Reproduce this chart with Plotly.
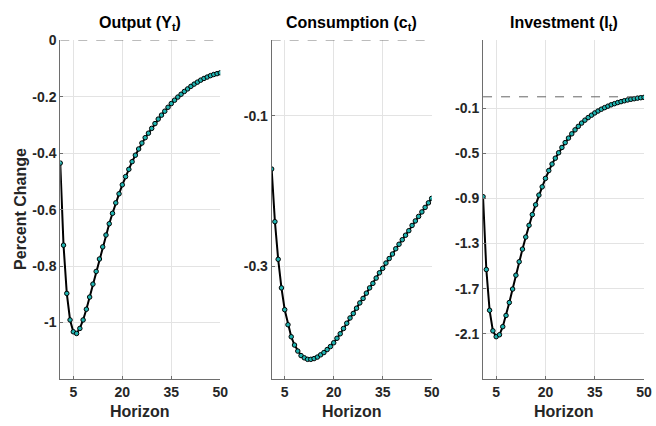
import plotly.graph_objects as go

horizon = list(range(1, 51))

output_y = [-0.435, -0.726, -0.897, -0.991, -1.033, -1.039, -1.021, -0.991, -0.953, -0.910,
            -0.864, -0.819, -0.775, -0.732, -0.690, -0.650, -0.613, -0.576, -0.544, -0.512,
            -0.483, -0.457, -0.430, -0.407, -0.385, -0.364, -0.345, -0.329, -0.312, -0.295,
            -0.279, -0.265, -0.251, -0.237, -0.224, -0.212, -0.201, -0.191, -0.181, -0.172,
            -0.163, -0.155, -0.148, -0.141, -0.135, -0.130, -0.125, -0.121, -0.118, -0.115]

consumption_c = [-0.171, -0.241, -0.291, -0.329, -0.358, -0.378, -0.394, -0.405, -0.413, -0.419,
                 -0.422, -0.424, -0.424, -0.423, -0.421, -0.418, -0.415, -0.411, -0.407, -0.402,
                 -0.396, -0.390, -0.383, -0.376, -0.369, -0.363, -0.356, -0.349, -0.343, -0.336,
                 -0.329, -0.323, -0.316, -0.309, -0.303, -0.296, -0.290, -0.284, -0.277, -0.271,
                 -0.265, -0.259, -0.253, -0.246, -0.240, -0.234, -0.228, -0.222, -0.216, -0.210]

investment_i = [-0.885, -1.531, -1.892, -2.074, -2.126, -2.109, -2.037, -1.938, -1.823, -1.704,
                -1.581, -1.462, -1.350, -1.243, -1.139, -1.044, -0.957, -0.871, -0.798, -0.723,
                -0.654, -0.596, -0.544, -0.496, -0.449, -0.406, -0.366, -0.328, -0.293, -0.262,
                -0.233, -0.207, -0.184, -0.163, -0.143, -0.126, -0.110, -0.096, -0.083, -0.071,
                -0.061, -0.051, -0.043, -0.035, -0.028, -0.022, -0.017, -0.012, -0.008, -0.005]

titles = ["Output (Y<sub>t</sub>)", "Consumption (c<sub>t</sub>)", "Investment (I<sub>t</sub>)"]
x_tickvals = [5, 20, 35, 50]
x_ticktext = ["5", "20", "35", "50"]
y1_tickvals = [-1, -0.8, -0.6, -0.4, -0.2, 0]
y1_ticktext = ["-1", "-0.8", "-0.6", "-0.4", "-0.2", "0"]
y2_tickvals = [-0.3, -0.1]
y2_ticktext = ["-0.3", "-0.1"]
y3_tickvals = [-2.1, -1.7, -1.3, -0.9, -0.5, -0.1]
y3_ticktext = ["-2.1", "-1.7", "-1.3", "-0.9", "-0.5", "-0.1"]
y_ranges = [[-1.2, 0], [-0.45, 0], [-2.5, 0.5]]
x_label = "Horizon"
y_label = "Percent Change"

W, H = 656, 426
x_domains = [[61 / W, 223 / W], [275 / W, 437 / W], [489 / W, 652 / W]]
y_domain = [1 - 378 / H, 1 - 33 / H]

FONT = "Liberation Sans, Arial, sans-serif"
TXT = "#262626"
GRID = "#e3e3e3"
AXIS = "#6e6e6e"

fig = go.Figure()
series = [output_y, consumption_c, investment_i]
yticks = [(y1_tickvals, y1_ticktext), (y2_tickvals, y2_ticktext), (y3_tickvals, y3_ticktext)]

layout = dict(
    width=W, height=H,
    margin=dict(l=0, r=0, t=0, b=0),
    paper_bgcolor="white", plot_bgcolor="white",
    showlegend=False,
    font=dict(family=FONT, color=TXT),
)

annotations = []
for i in range(3):
    n = "" if i == 0 else str(i + 1)
    xa, ya = "x" + n, "y" + n
    fig.add_trace(go.Scatter(
        x=horizon, y=series[i], xaxis=xa, yaxis=ya, mode="lines+markers",
        line=dict(color="black", width=2),
        marker=dict(size=4.5, color="#1fb3b0", line=dict(color="black", width=1)),
    ))
    fig.add_trace(go.Scatter(
        x=[horizon[0], horizon[-1]], y=[0, 0], xaxis=xa, yaxis=ya, mode="lines",
        line=dict(color="#666666", width=1, dash="dash"), hoverinfo="skip",
    ))
    layout["xaxis" + n] = dict(
        domain=x_domains[i], anchor=ya, range=[1, 50],
        tickvals=x_tickvals, ticktext=x_ticktext,
        showgrid=True, gridcolor=GRID, gridwidth=1, zeroline=False,
        showline=True, linecolor=AXIS, linewidth=1,
        ticks="inside", ticklen=3, tickcolor=AXIS,
        tickfont=dict(size=14, family=FONT, color=TXT, weight="bold"),
    )
    layout["yaxis" + n] = dict(
        domain=y_domain, anchor=xa, range=y_ranges[i],
        tickvals=yticks[i][0], ticktext=yticks[i][1],
        showgrid=True, gridcolor=GRID, gridwidth=1, zeroline=False,
        showline=True, linecolor=AXIS, linewidth=1,
        ticks="inside", ticklen=3, tickcolor=AXIS,
        tickfont=dict(size=14, family=FONT, color=TXT, weight="bold"),
    )
    cx = (x_domains[i][0] + x_domains[i][1]) / 2
    annotations.append(dict(
        text="<b>" + titles[i] + "</b>", x=cx, y=1 - 16 / H, xref="paper", yref="paper",
        xanchor="center", yanchor="middle", showarrow=False,
        font=dict(size=16, family=FONT, color="black"),
    ))
    annotations.append(dict(
        text="<b>" + x_label + "</b>", x=cx, y=1 - 411 / H, xref="paper", yref="paper",
        xanchor="center", yanchor="middle", showarrow=False,
        font=dict(size=16, family=FONT, color=TXT),
    ))

annotations.append(dict(
    text="<b>" + y_label + "</b>", x=20 / W, y=1 - 205 / H, xref="paper", yref="paper",
    xanchor="center", yanchor="middle", showarrow=False, textangle=-90,
    font=dict(size=16, family=FONT, color=TXT),
))

layout["annotations"] = annotations
fig.update_layout(**layout)
fig.write_html("out.html")
